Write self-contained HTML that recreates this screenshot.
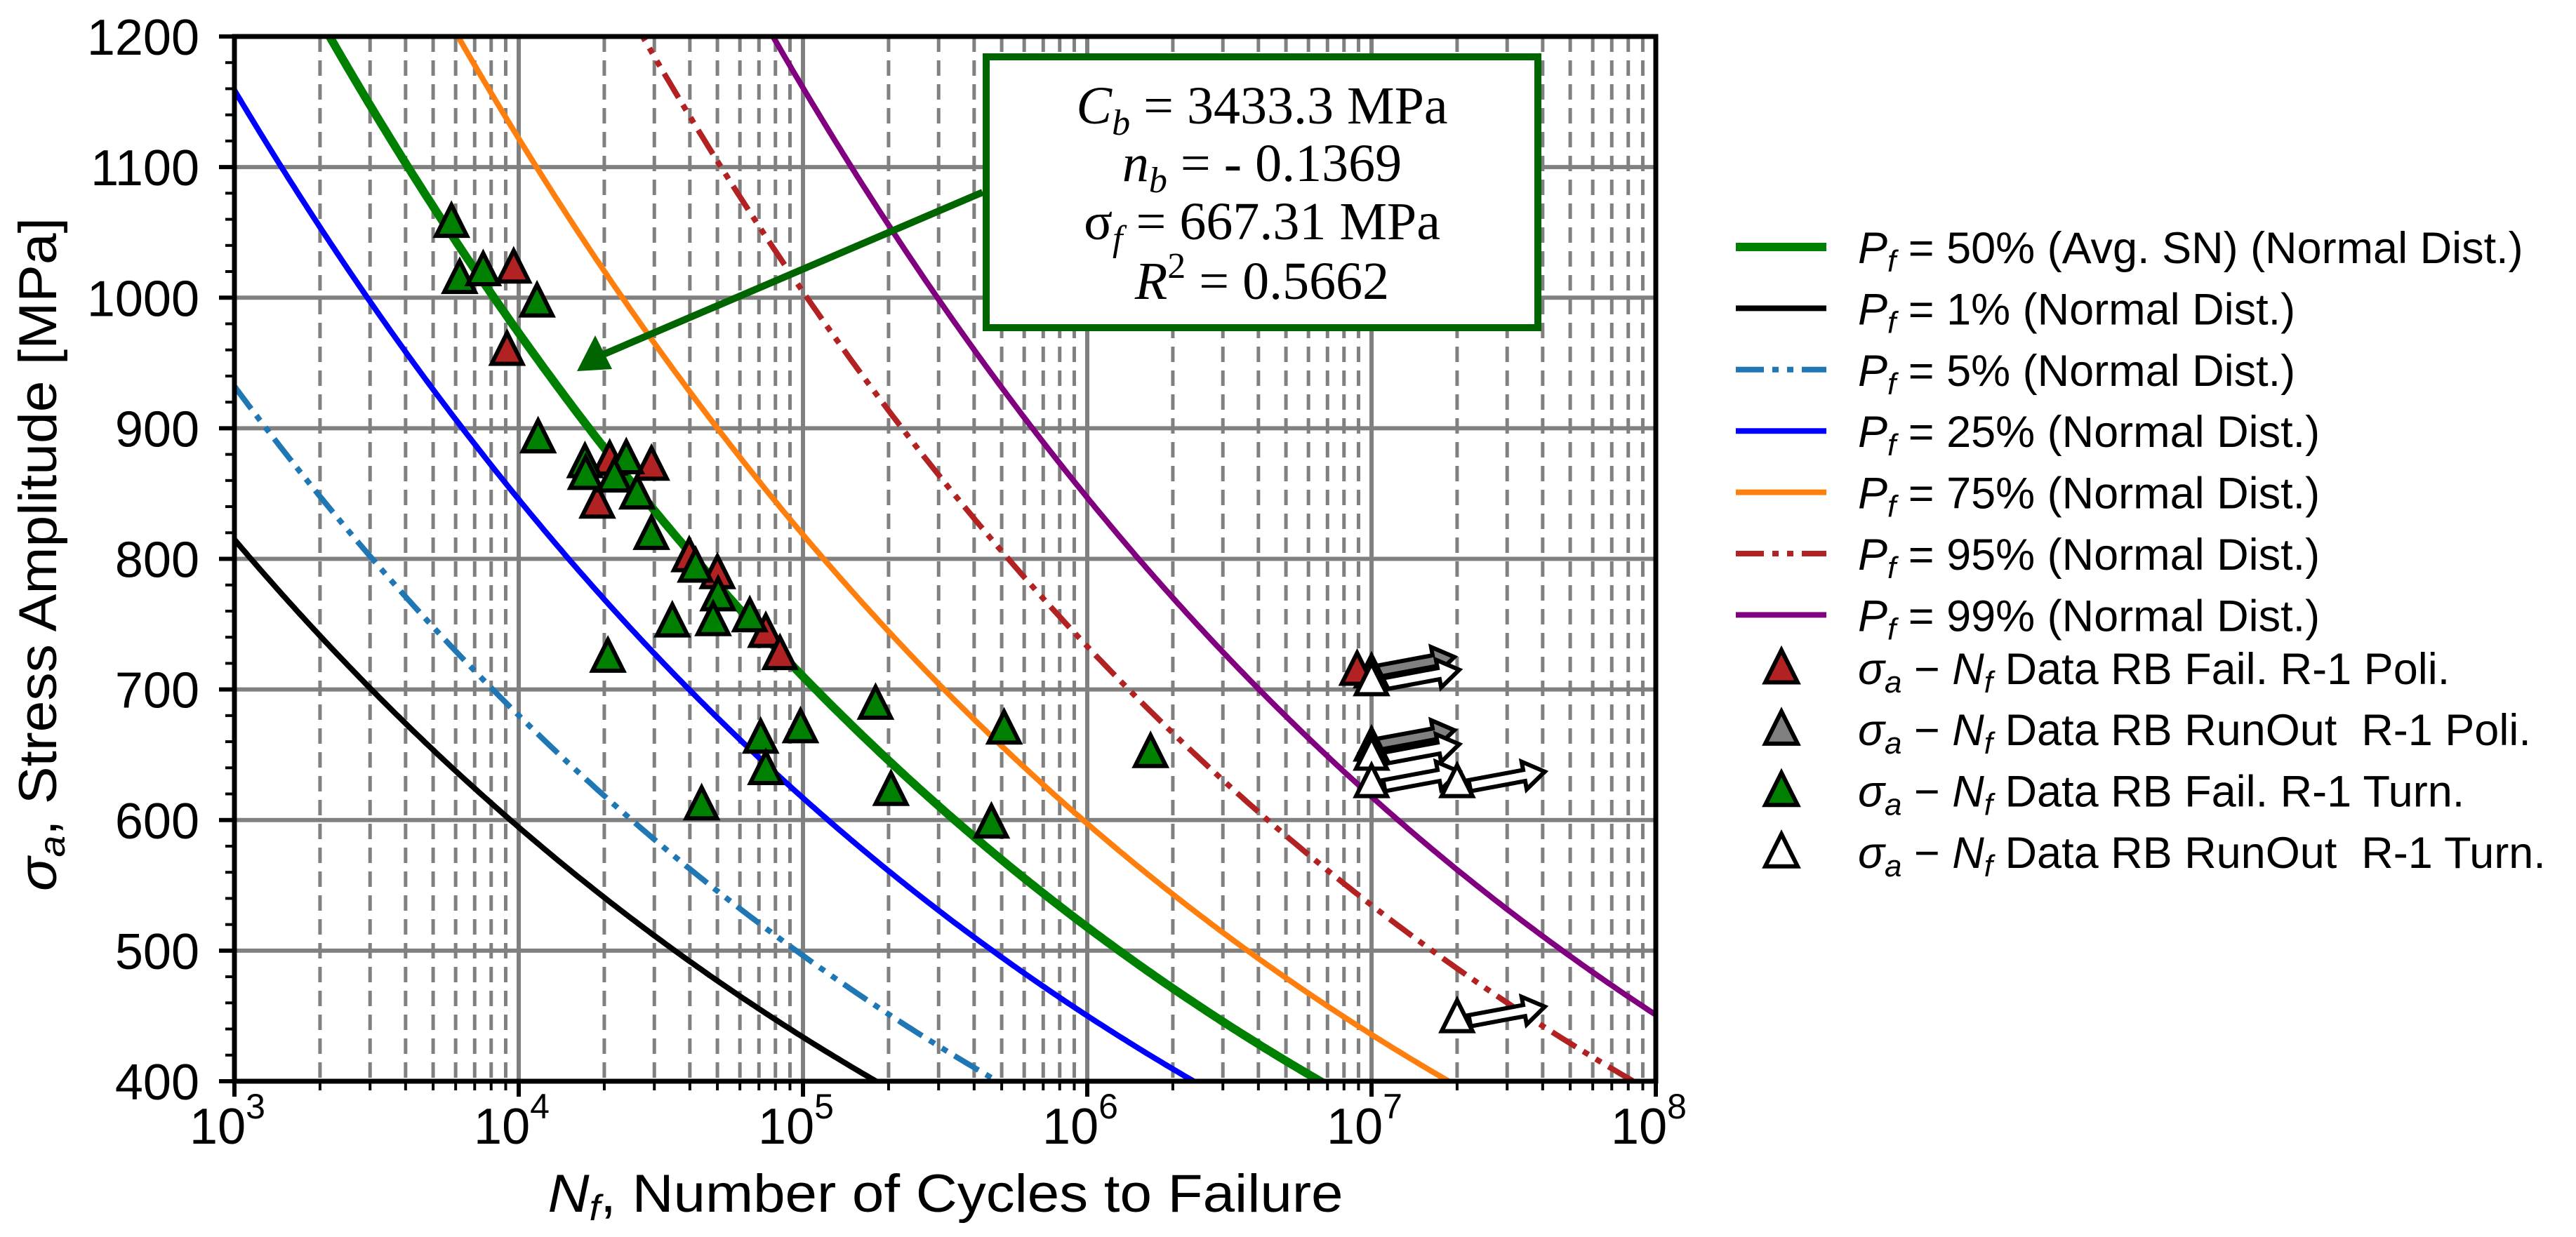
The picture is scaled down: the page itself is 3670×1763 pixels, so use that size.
<!DOCTYPE html>
<html><head><meta charset="utf-8"><style>
html,body{margin:0;padding:0;background:#fff;}
svg{display:block;}
text{font-family:"Liberation Sans","DejaVu Sans",sans-serif;}
</style></head><body>
<svg id="chart" xmlns="http://www.w3.org/2000/svg" width="3670" height="1763" viewBox="0 0 3670 1763">
<defs><clipPath id="plotclip"><rect x="334" y="52" width="2025" height="1489"/></clipPath></defs>
<rect x="0" y="0" width="3670" height="1763" fill="#fff"/>
<g id="grid"></g>
<g id="curves" clip-path="url(#plotclip)"></g>
<g id="arrows"></g>
<g id="points"></g>
<g id="axes"></g>
<g id="annot"></g>
<g id="legend"></g>
</svg>
<script>
// ---- data ----
const xDecades = [3, 4, 5, 6, 7, 8];
const yTicks = [400, 500, 600, 700, 800, 900, 1000, 1100, 1200];
const modelC = 3433.3;
const modelB = -0.1369;
const curveLabels = ["50% (Avg. SN) (Normal Dist.)", "1% (Normal Dist.)", "5% (Normal Dist.)", "25% (Normal Dist.)", "75% (Normal Dist.)", "95% (Normal Dist.)", "99% (Normal Dist.)"];
const curveFactors = [1.0, 0.611, 0.699, 0.869, 1.153, 1.415, 1.635];
const failPoliN = [9600, 9100, 20900, 29300, 18900, 39800, 50000, 74000, 83000, 8900000];
const failPoliS = [1023, 960, 876, 872, 843, 802, 789, 744, 727, 715];
const failTurnN = [5800, 6200, 7500, 11600, 11700, 17100, 17200, 23900, 21700, 26100, 29300, 41900, 50300, 48300, 34700, 65000, 20600, 180000, 510000, 98000, 71000, 74000, 204000, 44000, 460000, 1670000];
const failTurnS = [1058, 1015, 1021, 997, 893, 874, 865, 877, 863, 850, 819, 794, 772, 753, 752, 756, 725, 689, 670, 671, 663, 639, 623, 612, 598, 652];
const runPoliN = [10000000, 10000000];
const runPoliS = [713, 657];
const runTurnN = [10000000, 10000000, 10000000, 20000000, 20000000];
const runTurnS = [707, 650, 629, 629, 449];

// ---- geometry ----
const X0 = 334, X1 = 2359, Y0 = 52, Y1 = 1541;
const NS = "http://www.w3.org/2000/svg";
function xs(n){ return X0 + (Math.log10(n) - 3) / 5 * (X1 - X0); }
function ys(s){ return Y1 - (s - 400) / 800 * (Y1 - Y0); }
function mk(tag, attrs, parent){ const e = document.createElementNS(NS, tag); for (const k in attrs) e.setAttribute(k, attrs[k]); parent.appendChild(e); return e; }
const gGrid = document.getElementById('grid'), gCurves = document.getElementById('curves'), gPts = document.getElementById('points'), gAxes = document.getElementById('axes'), gArr = document.getElementById('arrows'), gAnn = document.getElementById('annot'), gLeg = document.getElementById('legend');

for (let d = 3; d < 8; d++) {
  for (let m = 2; m <= 9; m++) {
    const x = xs(m * Math.pow(10, d));
    const l = mk('line', {x1:x, x2:x, y1:Y0, y2:Y1, stroke:'#808080', 'stroke-width':5, 'stroke-dasharray':'22,12'}, gGrid);
    
    
    const t = mk('line', {x1:x, x2:x, y1:Y1, y2:Y1+13, stroke:'#000', 'stroke-width':4}, gAxes);
    
    
  }
}
xDecades.forEach(d => {
  const x = xs(Math.pow(10, d));
  const l = mk('line', {x1:x, x2:x, y1:Y0, y2:Y1, stroke:'#808080', 'stroke-width':6}, gGrid);
  
  
  const t = mk('line', {x1:x, x2:x, y1:Y1, y2:Y1+22, stroke:'#000', 'stroke-width':6}, gAxes);
  
  
  const tx = mk('text', {x:x - 10, y:1630, 'font-size':72, 'text-anchor':'middle', fill:'#000'}, gAxes);
  
  
  tx.textContent = '10';
  const sup = mk('tspan', {dy:-36, 'font-size':50}, tx);
  sup.textContent = String(d);
});
yTicks.forEach(s => {
  const y = ys(s);
  const l = mk('line', {x1:X0, x2:X1, y1:y, y2:y, stroke:'#808080', 'stroke-width':6}, gGrid);
  
  
  const t = mk('line', {x1:X0-22, x2:X0, y1:y, y2:y, stroke:'#000', 'stroke-width':6}, gAxes);
  
  
  const tx = mk('text', {x:284, y:y + 26, 'font-size':72, 'text-anchor':'end', fill:'#000'}, gAxes);
  
  
  tx.textContent = String(s);
});
for (let s = 420; s < 1200; s += 20) {
  if (s % 100 === 0) continue;
  const y = ys(s);
  const t = mk('line', {x1:X0-13, x2:X0, y1:y, y2:y, stroke:'#000', 'stroke-width':4}, gAxes);
  
  
}
const frame = mk('rect', {x:X0, y:Y0, width:X1-X0, height:Y1-Y0, fill:'none', stroke:'#000', 'stroke-width':7}, gAxes);



const xt = mk('text', {x:1347, y:1727, 'font-size':76, 'text-anchor':'middle', textLength:1133, lengthAdjust:'spacingAndGlyphs', fill:'#000'}, gAxes);


xt.innerHTML = '<tspan font-style="italic">N</tspan><tspan font-style="italic" font-size="52" dy="12">f</tspan><tspan dy="-12">, Number of Cycles to Failure</tspan>';
const yt = mk('text', {x:0, y:0, 'font-size':76, 'text-anchor':'middle', textLength:960, lengthAdjust:'spacingAndGlyphs', fill:'#000', transform:'translate(80,790) rotate(-90)'}, gAxes);


yt.innerHTML = '<tspan font-style="italic">σ</tspan><tspan font-style="italic" font-size="52" dy="12">a</tspan><tspan dy="-12">, Stress Amplitude [MPa]</tspan>';

const curveColors = ['#008000', '#000000', '#1f77b4', '#0000ff', '#ff7f0e', '#b22222', '#800080'];
const curveWidths = [12, 8, 8, 8, 8, 8, 8];
const curveDash = ['', '', '40,12,9,12,9,12', '', '', '40,12,9,12,9,12', ''];
const curveNames = ['curve-pf50', 'curve-pf1', 'curve-pf5', 'curve-pf25', 'curve-pf75', 'curve-pf95', 'curve-pf99'];
curveFactors.forEach((f, i) => {
  let d = '';
  for (let k = 0; k <= 500; k++) {
    const lg = 3 + 5 * k / 500;
    const n = Math.pow(10, lg);
    const s = Math.min(Math.max(f * modelC * Math.pow(n, modelB), 300), 1300);
    d += (k ? 'L' : 'M') + xs(n).toFixed(1) + ',' + ys(s).toFixed(1);
  }
  const p = mk('path', {d:d, fill:'none', stroke:curveColors[i], 'stroke-width':curveWidths[i]}, gCurves);
  if (curveDash[i]) p.setAttribute('stroke-dasharray', curveDash[i]);
  
  
});

function tri(cx, cy, fill, parent, size){
  const h = size || 44;
  const pts = [[cx, cy - h*0.55], [cx + h*0.5, cy + h*0.45], [cx - h*0.5, cy + h*0.45]].map(p => p.join(',')).join(' ');
  return mk('polygon', {points:pts, fill:fill, stroke:'#000', 'stroke-width':6, 'stroke-linejoin':'miter'}, parent);
}
function arrow(x0, y0, x1, y1, fill){
  const dx = x1 - x0, dy = y1 - y0, L = Math.hypot(dx, dy), ux = dx / L, uy = dy / L, px = -uy, py = ux;
  const sw = 8, hw = 20, hl = 30, bx = x1 - ux*hl, by = y1 - uy*hl;
  const P = [[x0+px*sw, y0+py*sw], [bx+px*sw, by+py*sw], [bx+px*hw, by+py*hw], [x1, y1], [bx-px*hw, by-py*hw], [bx-px*sw, by-py*sw], [x0-px*sw, y0-py*sw]];
  return mk('polygon', {points:P.map(p => p[0].toFixed(1)+','+p[1].toFixed(1)).join(' '), fill:fill, stroke:'#000', 'stroke-width':6}, gArr);
}
runPoliN.forEach((n, i) => {
  const x = xs(n), y = ys(runPoliS[i]);
  const a = arrow(x + 10, y - 2, x + 118, y - 22, '#808080');
  
  
  const t = tri(x, y, '#808080', gPts);
  
  
});
runTurnN.forEach((n, i) => {
  const x = xs(n), y = ys(runTurnS[i]);
  const a = arrow(x + 18, y + 5, x + 125, y - 15, '#ffffff');
  
  
});
failPoliN.forEach((n, i) => {
  const t = tri(xs(n), ys(failPoliS[i]), '#b22222', gPts);
  
  
});
failTurnN.forEach((n, i) => {
  const t = tri(xs(n), ys(failTurnS[i]), '#008000', gPts);
  
  
});
runTurnN.forEach((n, i) => {
  const t = tri(xs(n), ys(runTurnS[i]), '#ffffff', gPts);
  
  
});

const ab = mk('rect', {x:1405, y:81, width:786, height:386, fill:'#fff', stroke:'#006400', 'stroke-width':10}, gAnn);


const al = mk('line', {x1:1400, y1:274, x2:860, y2:505, stroke:'#006400', 'stroke-width':10}, gAnn);


const ah = mk('polygon', {points:'822,529 848,478 872,526', fill:'#006400'}, gAnn);


const annLines = [
  '<tspan font-style="italic">C</tspan><tspan font-style="italic" font-size="52" dy="16">b</tspan><tspan dy="-16"> = 3433.3 MPa</tspan>',
  '<tspan font-style="italic">n</tspan><tspan font-style="italic" font-size="52" dy="16">b</tspan><tspan dy="-16"> = - 0.1369</tspan>',
  '<tspan>σ</tspan><tspan font-style="italic" font-size="52" dy="16">f</tspan><tspan dy="-16"> = 667.31 MPa</tspan>',
  '<tspan font-style="italic">R</tspan><tspan font-size="52" dy="-30">2</tspan><tspan dy="30"> = 0.5662</tspan>'
];
const annY = [176, 258, 341, 426];
annLines.forEach((h, i) => {
  const t = mk('text', {x:1798, y:annY[i], 'font-size':76, 'text-anchor':'middle', fill:'#000', style:'font-family:"Liberation Serif",serif'}, gAnn);
  
  
  t.innerHTML = h;
});

const legY0 = 352, legDY = 87.4;
curveLabels.forEach((lab, i) => {
  const y = legY0 + legDY * i;
  const l = mk('line', {x1:2473, x2:2602, y1:y, y2:y, stroke:curveColors[i], 'stroke-width':curveWidths[i]}, gLeg);
  if (curveDash[i]) l.setAttribute('stroke-dasharray', '40,12,9,12,9,12');
  
  
  const t = mk('text', {x:2647, y:y + 23, 'font-size':63, fill:'#000'}, gLeg);
  
  
  t.innerHTML = '<tspan font-style="italic">P</tspan><tspan font-style="italic" font-size="44" dy="12">f</tspan><tspan dy="-12"> = ' + lab + '</tspan>';
});
const markerLabels = ['Data RB Fail. R-1 Poli.', 'Data RB RunOut  R-1 Poli.', 'Data RB Fail. R-1 Turn.', 'Data RB RunOut  R-1 Turn.'];
const markerFills = ['#b22222', '#808080', '#008000', '#ffffff'];
markerLabels.forEach((lab, i) => {
  const y = legY0 + legDY * (7 + i) - 12;
  const tr = tri(2538, y, markerFills[i], gLeg, 46);
  
  
  const t = mk('text', {x:2647, y:y + 23, 'font-size':63, fill:'#000'}, gLeg);
  
  
  t.innerHTML = '<tspan font-style="italic">σ</tspan><tspan font-style="italic" font-size="44" dy="12">a</tspan><tspan dy="-12"> − </tspan><tspan font-style="italic">N</tspan><tspan font-style="italic" font-size="44" dy="12">f</tspan><tspan dy="-12"> ' + lab.replace(/  /g, '\u00a0 ') + '</tspan>';
});
</script>
</body></html>
